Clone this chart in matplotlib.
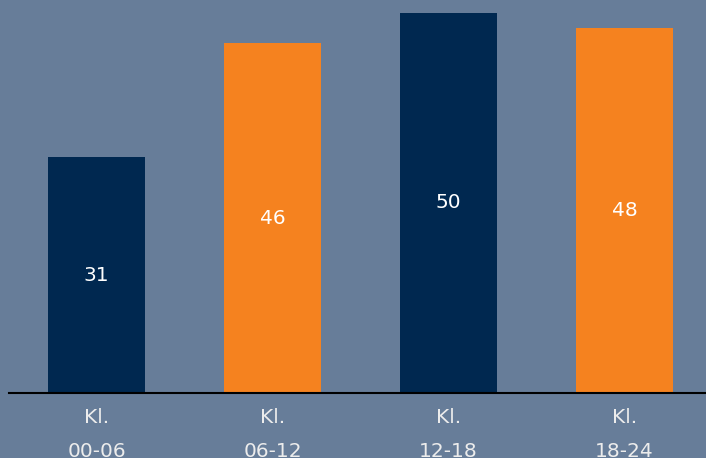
import matplotlib
matplotlib.use("Agg")
import matplotlib.pyplot as plt

categories = ["Kl.\n00-06", "Kl.\n06-12", "Kl.\n12-18", "Kl.\n18-24"]
values = [31, 46, 50, 48]
colors = ["#002850", "#f5821f", "#002850", "#f5821f"]

BG = "#677d99"
W, H = 706, 458
fig = plt.figure(figsize=(W / 100, H / 100), dpi=100, facecolor=BG)
ax = fig.add_axes([9 / W, (H - 393) / H, (W - 9) / W, 393 / H])
ax.set_facecolor(BG)

x = list(range(len(categories)))
bars = ax.bar(x, values, width=97 / 176, color=colors, zorder=2)
for xi, v in zip(x, values):
    ax.text(xi, v / 2, str(v), ha="center", va="center", color="white",
            fontsize=14.5, family="DejaVu Sans")

ax.set_xlim(-87.5 / 176, 3 + 81.5 / 176)
ax.set_ylim(0, 393 / 7.6)
ax.set_xticks(x)
ax.set_xticklabels(categories, fontsize=14.5, color="#ececec", linespacing=1.95)
ax.tick_params(axis="x", length=0, pad=11)
ax.set_yticks([])
for s in ["top", "right", "left"]:
    ax.spines[s].set_visible(False)
ax.spines["bottom"].set_color("black")
ax.spines["bottom"].set_linewidth(1.5)

fig.savefig("out.png", dpi=100, facecolor=BG)
